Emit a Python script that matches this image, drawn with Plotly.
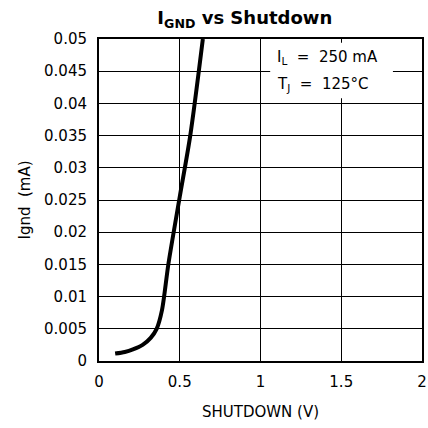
import plotly.graph_objects as go

# Data
shutdown_v = [0.10, 0.16, 0.21, 0.27, 0.32, 0.357, 0.39, 0.43, 0.50, 0.565, 0.643]
ignd_ma = [0.00115, 0.0014, 0.0018, 0.0025, 0.0036, 0.0050, 0.0079, 0.0151, 0.0255, 0.0350, 0.0500]

x_ticks = [0, 0.5, 1, 1.5, 2]
x_ticktext = ["0", "0.5", "1", "1.5", "2"]
y_ticks = [0, 0.005, 0.01, 0.015, 0.02, 0.025, 0.03, 0.035, 0.04, 0.045, 0.05]
y_ticktext = ["0", "0.005", "0.01", "0.015", "0.02", "0.025", "0.03", "0.035", "0.04", "0.045", "0.05"]

title_text = "<b>I<sub>GND</sub> vs Shutdown</b>"
x_title = "SHUTDOWN (V)"
y_title = "Ignd  (mA)"
note_lines = ["I<sub>L</sub>  =  250 mA", "T<sub>J</sub>  =  125°C"]

FONT = "DejaVu Sans, Verdana, sans-serif"
tick_font = dict(family=FONT, size=15, color="black")

fig = go.Figure()
fig.add_trace(go.Scatter(
    x=shutdown_v, y=ignd_ma, mode="lines",
    line=dict(color="black", width=4, shape="spline", smoothing=0.8),
    hoverinfo="skip", showlegend=False,
))

fig.update_layout(
    width=428, height=428,
    margin=dict(l=99, r=6, t=39, b=67),
    paper_bgcolor="white", plot_bgcolor="white",
    title=dict(text=title_text, x=0.572, xanchor="center", y=0.958, yanchor="middle",
               font=dict(family=FONT, size=18, color="black")),
    xaxis=dict(range=[0, 2], tickvals=x_ticks, ticktext=x_ticktext,
               showgrid=True, gridcolor="black", gridwidth=1.2,
               showline=True, linecolor="black", linewidth=2, mirror=True,
               ticks="outside", ticklen=6, tickcolor="rgba(0,0,0,0)",
               tickfont=tick_font, zeroline=False, automargin=False,
               title=dict(text=x_title, standoff=16,
                          font=dict(family=FONT, size=15, color="black"))),
    yaxis=dict(range=[0, 0.05], tickvals=y_ticks, ticktext=y_ticktext,
               showgrid=True, gridcolor="black", gridwidth=1.2,
               showline=True, linecolor="black", linewidth=2, mirror=True,
               ticks="outside", ticklen=7, tickcolor="rgba(0,0,0,0)",
               tickfont=tick_font, zeroline=False, automargin=False,
               title=dict(text=y_title, standoff=10,
                          font=dict(family=FONT, size=15, color="black"))),
)

# White box covering the grid behind the condition note
fig.add_shape(type="rect", xref="x", yref="y", x0=1.06, x1=1.82, y0=0.0408, y1=0.0494,
              fillcolor="white", line=dict(width=0), layer="above")

fig.add_annotation(x=1.09, y=0.0472, xref="x", yref="y", text=note_lines[0],
                   showarrow=False, xanchor="left", yanchor="middle",
                   font=dict(family=FONT, size=15, color="black"))
fig.add_annotation(x=1.09, y=0.0429, xref="x", yref="y", text=note_lines[1],
                   showarrow=False, xanchor="left", yanchor="middle",
                   font=dict(family=FONT, size=15, color="black"))

# Remove the default 8px page margin so the 428x428 figure fills the window exactly
fig.write_html("out.html", config={"displayModeBar": False},
               post_script="document.body.style.margin='0';document.body.style.overflow='hidden';")
